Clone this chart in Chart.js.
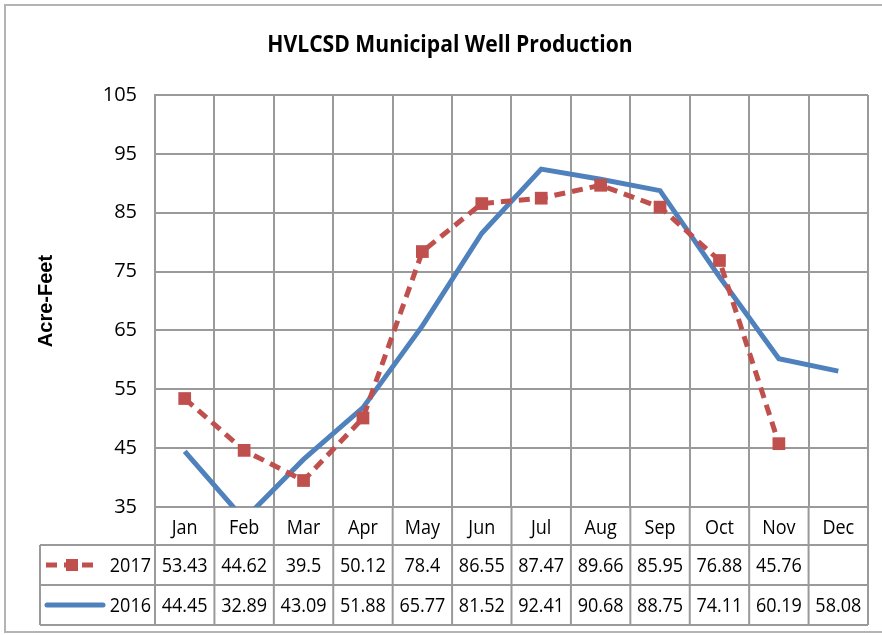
<!DOCTYPE html>
<html>
<head>
<meta charset="utf-8">
<script src="https://cdn.jsdelivr.net/npm/chart.js@4.4.1/dist/chart.umd.min.js"></script>
<style>
  html, body { margin: 0; padding: 0; background: #fff; }
  #wrap { width: 882px; height: 635px; position: relative; }
</style>
</head>
<body>
<div id="wrap"><canvas id="chart" width="882" height="635"></canvas></div>
<script>
const months = ["Jan", "Feb", "Mar", "Apr", "May", "Jun", "Jul", "Aug", "Sep", "Oct", "Nov", "Dec"]
const series2017 = [53.43, 44.62, 39.5, 50.12, 78.4, 86.55, 87.47, 89.66, 85.95, 76.88, 45.76, null]
const series2016 = [44.45, 32.89, 43.09, 51.88, 65.77, 81.52, 92.41, 90.68, 88.75, 74.11, 60.19, 58.08]
const labels2017 = ["53.43", "44.62", "39.5", "50.12", "78.4", "86.55", "87.47", "89.66", "85.95", "76.88", "45.76", ""]
const labels2016 = ["44.45", "32.89", "43.09", "51.88", "65.77", "81.52", "92.41", "90.68", "88.75", "74.11", "60.19", "58.08"]

const RED = "#C0504D"
const BLUE = "#4F81BD"
const GRID = "#9a9a9a"
const FONT = "'Open Sans', sans-serif"

// condensed text, to get closer to the narrow office font
function narrowText(ctx, text, x, y, squeeze) {
  ctx.save()
  ctx.translate(x, y)
  ctx.scale(squeeze, 1)
  ctx.fillText(text, 0, 0)
  ctx.restore()
}

// frame, title, axis title and the data table under the plot
const tablePlugin = {
  id: "tablePlugin",
  beforeDraw(chart) {
    const ctx = chart.ctx
    ctx.save()
    ctx.strokeStyle = "#b4b4b4"
    ctx.lineWidth = 2
    ctx.strokeRect(5, 5, 900, 627)
    ctx.restore()
  },
  afterDraw(chart) {
    const ctx = chart.ctx
    const x = chart.scales.x
    const area = chart.chartArea
    const colW = (x.right - x.left) / months.length
    const rowTop = area.bottom
    const row1 = rowTop + 38
    const row2 = row1 + 40
    const row3 = row2 + 40
    const keyLeft = 40

    ctx.save()
    // title
    ctx.fillStyle = "#000"
    ctx.font = "bold 24px " + FONT
    ctx.textAlign = "center"
    ctx.textBaseline = "middle"
    narrowText(ctx, "HVLCSD Municipal Well Production", 450, 45, 0.88)

    // y axis title
    ctx.save()
    ctx.translate(46, (area.top + area.bottom) / 2)
    ctx.rotate(-Math.PI / 2)
    ctx.font = "bold 20px 'Liberation Sans', Arial, sans-serif"
    ctx.fillText("Acre-Feet", 0, 0)
    ctx.restore()

    // table lines
    ctx.strokeStyle = GRID
    ctx.lineWidth = 2
    ctx.beginPath()
    for (let i = 0; i <= months.length; i++) {
      const px = x.left + i * colW
      ctx.moveTo(px, rowTop)
      ctx.lineTo(px, row3)
    }
    ctx.moveTo(keyLeft, row1)
    ctx.lineTo(x.right, row1)
    ctx.moveTo(keyLeft, row2)
    ctx.lineTo(x.right, row2)
    ctx.moveTo(keyLeft, row3)
    ctx.lineTo(x.right, row3)
    ctx.moveTo(keyLeft, row1)
    ctx.lineTo(keyLeft, row3)
    ctx.stroke()

    // header and values
    ctx.fillStyle = "#000"
    ctx.font = "20px " + FONT
    ctx.textAlign = "center"
    months.forEach((m, i) => {
      const cx = x.getPixelForValue(i)
      narrowText(ctx, m, cx, (rowTop + row1) / 2 + 2, 0.9)
      narrowText(ctx, labels2017[i], cx, (row1 + row2) / 2 + 1, 0.9)
      narrowText(ctx, labels2016[i], cx, (row2 + row3) / 2 + 1, 0.9)
    })

    // series names
    ctx.textAlign = "right"
    narrowText(ctx, "2017", area.left - 4, (row1 + row2) / 2 + 1, 0.9)
    narrowText(ctx, "2016", area.left - 4, (row2 + row3) / 2 + 1, 0.9)

    // legend keys
    const y1 = (row1 + row2) / 2
    const y2 = (row2 + row3) / 2
    ctx.lineWidth = 5
    ctx.strokeStyle = RED
    ctx.setLineDash([11, 7])
    ctx.beginPath()
    ctx.moveTo(46, y1)
    ctx.lineTo(100, y1)
    ctx.stroke()
    ctx.setLineDash([])
    ctx.fillStyle = RED
    ctx.fillRect(66, y1 - 6, 12, 12)
    ctx.strokeStyle = BLUE
    ctx.lineCap = "round"
    ctx.beginPath()
    ctx.moveTo(47, y2)
    ctx.lineTo(103, y2)
    ctx.stroke()
    ctx.restore()
  }
}

new Chart(document.getElementById("chart"), {
  type: "line",
  data: {
    labels: months,
    datasets: [
      {
        label: "2017",
        data: series2017,
        borderColor: RED,
        backgroundColor: RED,
        borderWidth: 5,
        borderDash: [11, 7],
        pointStyle: "rect",
        pointRadius: 9,
        pointBorderWidth: 0,
        clip: 0,
        tension: 0
      },
      {
        label: "2016",
        data: series2016,
        borderColor: BLUE,
        backgroundColor: BLUE,
        borderWidth: 5,
        pointRadius: 0,
        clip: 0,
        tension: 0
      }
    ]
  },
  options: {
    responsive: false,
    animation: false,
    devicePixelRatio: 1,
    layout: {
      padding: { left: 0, right: 14, top: 95, bottom: 128 }
    },
    plugins: {
      legend: { display: false },
      title: { display: false },
      tooltip: { enabled: false }
    },
    scales: {
      x: {
        offset: true,
        grid: {
          offset: true,
          color: GRID,
          lineWidth: 2,
          drawTicks: false
        },
        border: { color: GRID, width: 2 },
        ticks: { display: false },
        afterFit(scale) { scale.height = 0 }
      },
      y: {
        min: 35,
        max: 105,
        ticks: {
          stepSize: 10,
          color: "#000",
          padding: 18,
          font: { family: FONT, size: 20 }
        },
        grid: {
          color: GRID,
          lineWidth: 2,
          drawTicks: false
        },
        border: { color: GRID, width: 2 },
        afterFit(scale) { scale.width = 155 }
      }
    }
  },
  plugins: [tablePlugin]
})
</script>
</body>
</html>
